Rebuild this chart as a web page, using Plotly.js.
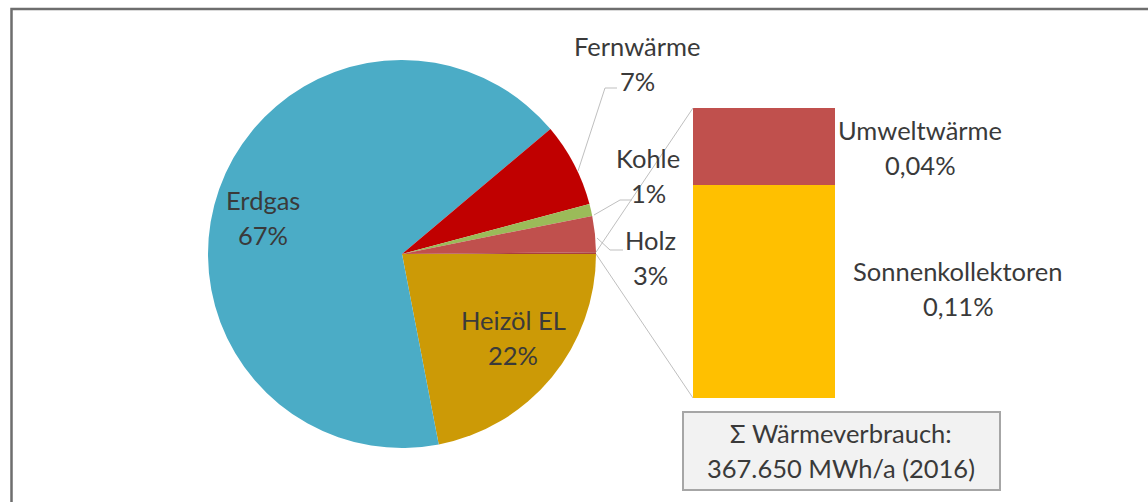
<!DOCTYPE html>
<html>
<head>
<meta charset="utf-8">
<script src="https://cdn.plot.ly/plotly-3.0.1.min.js"></script>
<style>
  body { margin: 0; background: #fff; }
  #chart { width: 1148px; height: 502px; }
</style>
</head>
<body>
<div id="chart"></div>
<script>
// pie: main energy carriers (share of heat consumption, %)
const pieLabels = ['Heizöl EL', 'Erdgas', 'Fernwärme', 'Kohle', 'Holz', 'Sonstige'];
const pieShares = [22, 67, 7, 1, 3];
const pieColors = ['#CC9A06', '#4BACC6', '#C00000', '#9BBB59', '#C0504D', '#A8403D'];

// bar: breakdown of the small remainder
const barLabels = ['Sonnenkollektoren', 'Umweltwärme'];
const barShares = [0.11, 0.04];
const barColors = ['#FFC000', '#C0504D'];

const totalText = ['Σ Wärmeverbrauch:', '367.650 MWh/a (2016)'];

const W = 1148, H = 502;
const px = x => x / W;
const py = y => 1 - y / H;

const otherShare = barShares.reduce((a, b) => a + b, 0);
const pieValues = pieShares.concat([otherShare]);
const pieTotal = pieValues.reduce((a, b) => a + b, 0);

// pie geometry (pixels)
const cx = 402, cy = 254, r = 194;
// bar box (pixels)
const barL = 693, barR = 835, barT = 108, barB = 398;

const pieTrace = {
    type: 'pie',
    labels: pieLabels,
    values: pieValues,
    marker: { colors: pieColors, line: { width: 0 } },
    sort: false,
    direction: 'clockwise',
    rotation: 90,
    textinfo: 'none',
    hoverinfo: 'label+value',
    showlegend: false,
    domain: { x: [px(cx - r), px(cx + r)], y: [py(cy + r), py(cy - r)] }
};

const barTraces = barLabels.map((name, i) => ({
    type: 'bar',
    x: ['Rest'],
    y: [barShares[i]],
    name: name,
    marker: { color: barColors[i], line: { width: 0 } },
    xaxis: 'x2',
    yaxis: 'y2',
    showlegend: false,
    hoverinfo: 'name+y'
}));

// connector end points on the "other" slice
const theta = otherShare / pieTotal * 2 * Math.PI;
const ax1 = cx + r * Math.cos(theta), ay1 = cy - r * Math.sin(theta);
const ax2 = cx + r, ay2 = cy;

const grey = '#BFBFBF';
function line(x0, y0, x1, y1, color, width) {
    return { type: 'line', xref: 'paper', yref: 'paper',
        x0: px(x0), y0: py(y0), x1: px(x1), y1: py(y1),
        line: { color: color || grey, width: width || 1 } };
}

const shapes = [
    // outer frame
    { type: 'rect', xref: 'paper', yref: 'paper', x0: px(11.5), y0: py(9), x1: 1.05, y1: -0.1,
      line: { color: '#6E6E6E', width: 2.5 }, layer: 'below' },
    // connectors pie -> bar
    line(barL, barT, ax1, ay1),
    line(barL, barB, ax2, ay2),
    // leader lines
    line(578, 171, 605, 88), line(605, 88, 617, 88),
    line(594, 215, 620, 200), line(620, 200, 632, 200),
    line(597, 238, 610, 250), line(610, 250, 623, 250),
    // total box
    { type: 'rect', xref: 'paper', yref: 'paper', x0: px(683), y0: py(490), x1: px(1000), y1: py(412),
      fillcolor: '#F2F2F2', line: { color: '#A6A6A6', width: 2 } }
];

const textColor = '#3A3A3A';
const labelPos = [
    // [text line 1, text line 2, x, y of line 1]
    [pieLabels[0], pieShares[0] + '%', 513, 320],
    [pieLabels[1], pieShares[1] + '%', 263, 200],
    [pieLabels[2], pieShares[2] + '%', 637, 46],
    [pieLabels[3], pieShares[3] + '%', 648, 158],
    [pieLabels[4], pieShares[4] + '%', 650, 240],
    [barLabels[1], barShares[1].toFixed(2).replace('.', ',') + '%', 920, 130],
    [barLabels[0], barShares[0].toFixed(2).replace('.', ',') + '%', 958, 271],
    [totalText[0], totalText[1], 841, 433]
];

const annotations = [];
labelPos.forEach(([t1, t2, x, y]) => {
    [t1, t2].forEach((t, k) => {
        annotations.push({
            xref: 'paper', yref: 'paper', x: px(x), y: py(y + k * 35),
            text: t, showarrow: false, xanchor: 'center', yanchor: 'middle',
            font: { family: 'Lato, sans-serif', size: 25.5, color: textColor }
        });
    });
});

const layout = {
    width: W,
    height: H,
    margin: { l: 0, r: 0, t: 0, b: 0 },
    paper_bgcolor: '#FFFFFF',
    plot_bgcolor: 'rgba(0,0,0,0)',
    barmode: 'stack',
    bargap: 0,
    xaxis2: { domain: [px(barL), px(barR)], range: [-0.5, 0.5], visible: false, fixedrange: true, anchor: 'y2' },
    yaxis2: { domain: [py(barB), py(barT)], range: [0, otherShare], visible: false, fixedrange: true, anchor: 'x2' },
    shapes: shapes,
    annotations: annotations
};

Plotly.newPlot('chart', [pieTrace].concat(barTraces), layout, { displayModeBar: false, staticPlot: true });
</script>
</body>
</html>
